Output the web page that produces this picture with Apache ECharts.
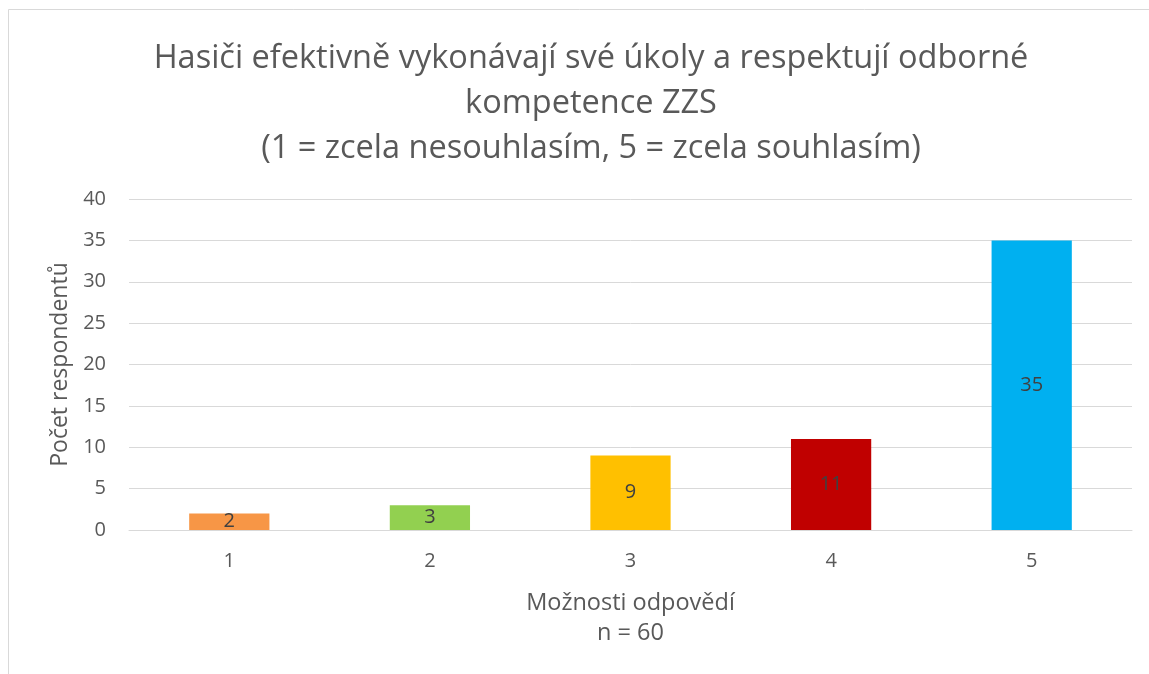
<!DOCTYPE html>
<html>
<head>
<meta charset="utf-8">
<script src="https://cdn.jsdelivr.net/npm/echarts@6/dist/echarts.min.js"></script>
<style>
  html, body { margin: 0; padding: 0; background: #fff; }
  #chart-container { width: 1149px; height: 674px; }
</style>
</head>
<body>
<div id="chart-container"></div>
<script>
// data
const categories = ['1', '2', '3', '4', '5'];
const counts = [2, 3, 9, 11, 35];
const barColors = ['#F79646', '#92D050', '#FFC000', '#C00000', '#00B0F0'];
const titleLines = [
    'Hasiči efektivně vykonávají své úkoly a respektují odborné',
    'kompetence ZZS',
    '(1 = zcela nesouhlasím, 5 = zcela souhlasím)'
];

const FONT = '"Open Sans", "Liberation Sans", sans-serif';
const GREY = '#595959';

const chart = echarts.init(document.querySelector('#chart-container'), null, {
    renderer: 'canvas',
    devicePixelRatio: 1
});

chart.setOption({
    animation: false,
    backgroundColor: '#fff',
    graphic: [{
        // frame of the chart object
        type: 'rect',
        shape: { x: 8.5, y: 9.5, width: 1200, height: 700 },
        style: { fill: 'none', stroke: '#d9d9d9', lineWidth: 1 },
        silent: true
    }],
    title: {
        text: titleLines.join('\n'),
        left: 586,
        top: 31,
        textAlign: 'center',
        textStyle: {
            fontFamily: FONT,
            fontWeight: 'normal',
            fontSize: 32.5,
            lineHeight: 45,
            color: GREY
        }
    },
    grid: {
        left: 129,
        right: 17,
        top: 199,
        bottom: 144
    },
    xAxis: {
        type: 'category',
        data: categories,
        name: 'Možnosti odpovědí\nn = 60',
        nameLocation: 'middle',
        nameGap: 58,
        nameTextStyle: {
            fontFamily: FONT,
            fontSize: 23.5,
            lineHeight: 30,
            color: GREY
        },
        axisLine: { lineStyle: { color: '#d9d9d9', width: 1 } },
        axisTick: { show: false },
        axisLabel: {
            fontFamily: FONT,
            fontSize: 20,
            color: GREY,
            margin: 21
        }
    },
    yAxis: {
        type: 'value',
        min: 0,
        max: 40,
        interval: 5,
        name: 'Počet respondentů',
        nameLocation: 'middle',
        nameGap: 55,
        nameTextStyle: {
            fontFamily: FONT,
            fontSize: 23,
            color: GREY
        },
        axisLine: { show: false },
        axisTick: { show: false },
        axisLabel: {
            fontFamily: FONT,
            fontSize: 20,
            color: GREY,
            margin: 23
        },
        splitLine: { lineStyle: { color: '#d9d9d9', width: 1 } }
    },
    series: [{
        type: 'bar',
        barWidth: '40%',
        data: counts.map((v, i) => ({
            value: v,
            itemStyle: { color: barColors[i] }
        })),
        label: {
            show: true,
            position: 'inside',
            fontFamily: FONT,
            fontSize: 20,
            color: '#404040'
        }
    }]
});
</script>
</body>
</html>
